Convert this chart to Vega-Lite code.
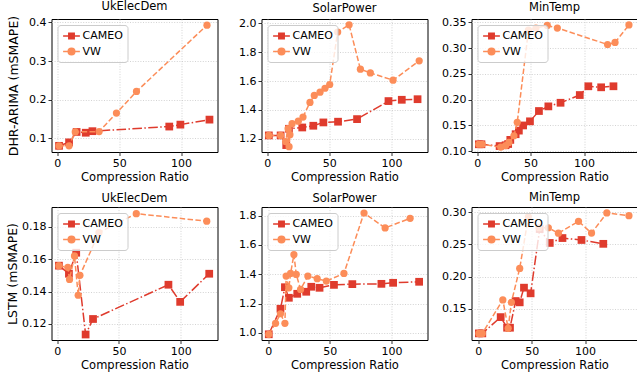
{
"$schema": "https://vega.github.io/schema/vega-lite/v6.json",
"padding": {"left": 5.5, "top": 0, "right": 2, "bottom": 0},
"columns": 3,
"spacing": {"row": 55, "column": 44},
"bounds": "flush",
"data": {"values": [
{"model":"DHR-ARIMA","dataset":"UkElecDem","method":"CAMEO","ratio":1.4,"smape":0.080},
{"model":"DHR-ARIMA","dataset":"UkElecDem","method":"CAMEO","ratio":9.5,"smape":0.089},
{"model":"DHR-ARIMA","dataset":"UkElecDem","method":"CAMEO","ratio":15.6,"smape":0.116},
{"model":"DHR-ARIMA","dataset":"UkElecDem","method":"CAMEO","ratio":23,"smape":0.114},
{"model":"DHR-ARIMA","dataset":"UkElecDem","method":"CAMEO","ratio":28.4,"smape":0.118},
{"model":"DHR-ARIMA","dataset":"UkElecDem","method":"CAMEO","ratio":90.5,"smape":0.130},
{"model":"DHR-ARIMA","dataset":"UkElecDem","method":"CAMEO","ratio":99.5,"smape":0.135},
{"model":"DHR-ARIMA","dataset":"UkElecDem","method":"CAMEO","ratio":123,"smape":0.148},
{"model":"DHR-ARIMA","dataset":"UkElecDem","method":"VW","ratio":1.4,"smape":0.080},
{"model":"DHR-ARIMA","dataset":"UkElecDem","method":"VW","ratio":9.5,"smape":0.080},
{"model":"DHR-ARIMA","dataset":"UkElecDem","method":"VW","ratio":14.5,"smape":0.116},
{"model":"DHR-ARIMA","dataset":"UkElecDem","method":"VW","ratio":33.8,"smape":0.117},
{"model":"DHR-ARIMA","dataset":"UkElecDem","method":"VW","ratio":47.8,"smape":0.165},
{"model":"DHR-ARIMA","dataset":"UkElecDem","method":"VW","ratio":64,"smape":0.221},
{"model":"DHR-ARIMA","dataset":"UkElecDem","method":"VW","ratio":121,"smape":0.393},
{"model":"DHR-ARIMA","dataset":"SolarPower","method":"CAMEO","ratio":1.3,"smape":1.223},
{"model":"DHR-ARIMA","dataset":"SolarPower","method":"CAMEO","ratio":10.8,"smape":1.223},
{"model":"DHR-ARIMA","dataset":"SolarPower","method":"CAMEO","ratio":15.3,"smape":1.156},
{"model":"DHR-ARIMA","dataset":"SolarPower","method":"CAMEO","ratio":17.5,"smape":1.269},
{"model":"DHR-ARIMA","dataset":"SolarPower","method":"CAMEO","ratio":28.2,"smape":1.278},
{"model":"DHR-ARIMA","dataset":"SolarPower","method":"CAMEO","ratio":37.1,"smape":1.290},
{"model":"DHR-ARIMA","dataset":"SolarPower","method":"CAMEO","ratio":45.2,"smape":1.313},
{"model":"DHR-ARIMA","dataset":"SolarPower","method":"CAMEO","ratio":57,"smape":1.318},
{"model":"DHR-ARIMA","dataset":"SolarPower","method":"CAMEO","ratio":72.3,"smape":1.336},
{"model":"DHR-ARIMA","dataset":"SolarPower","method":"CAMEO","ratio":97.6,"smape":1.461},
{"model":"DHR-ARIMA","dataset":"SolarPower","method":"CAMEO","ratio":108.3,"smape":1.470},
{"model":"DHR-ARIMA","dataset":"SolarPower","method":"CAMEO","ratio":121,"smape":1.474},
{"model":"DHR-ARIMA","dataset":"SolarPower","method":"VW","ratio":1.3,"smape":1.223},
{"model":"DHR-ARIMA","dataset":"SolarPower","method":"VW","ratio":10.8,"smape":1.223},
{"model":"DHR-ARIMA","dataset":"SolarPower","method":"VW","ratio":14.8,"smape":1.18},
{"model":"DHR-ARIMA","dataset":"SolarPower","method":"VW","ratio":16.8,"smape":1.27},
{"model":"DHR-ARIMA","dataset":"SolarPower","method":"VW","ratio":17.6,"smape":1.145},
{"model":"DHR-ARIMA","dataset":"SolarPower","method":"VW","ratio":18.3,"smape":1.228},
{"model":"DHR-ARIMA","dataset":"SolarPower","method":"VW","ratio":20,"smape":1.304},
{"model":"DHR-ARIMA","dataset":"SolarPower","method":"VW","ratio":25,"smape":1.322},
{"model":"DHR-ARIMA","dataset":"SolarPower","method":"VW","ratio":28.8,"smape":1.35},
{"model":"DHR-ARIMA","dataset":"SolarPower","method":"VW","ratio":34.4,"smape":1.452},
{"model":"DHR-ARIMA","dataset":"SolarPower","method":"VW","ratio":37.9,"smape":1.50},
{"model":"DHR-ARIMA","dataset":"SolarPower","method":"VW","ratio":42.5,"smape":1.523},
{"model":"DHR-ARIMA","dataset":"SolarPower","method":"VW","ratio":46.5,"smape":1.55},
{"model":"DHR-ARIMA","dataset":"SolarPower","method":"VW","ratio":50.3,"smape":1.576},
{"model":"DHR-ARIMA","dataset":"SolarPower","method":"VW","ratio":56.7,"smape":1.94},
{"model":"DHR-ARIMA","dataset":"SolarPower","method":"VW","ratio":65.9,"smape":1.99},
{"model":"DHR-ARIMA","dataset":"SolarPower","method":"VW","ratio":75,"smape":1.682},
{"model":"DHR-ARIMA","dataset":"SolarPower","method":"VW","ratio":83,"smape":1.656},
{"model":"DHR-ARIMA","dataset":"SolarPower","method":"VW","ratio":101.3,"smape":1.606},
{"model":"DHR-ARIMA","dataset":"SolarPower","method":"VW","ratio":122.3,"smape":1.74},
{"model":"DHR-ARIMA","dataset":"MinTemp","method":"CAMEO","ratio":1.6,"smape":0.1135},
{"model":"DHR-ARIMA","dataset":"MinTemp","method":"CAMEO","ratio":4,"smape":0.1135},
{"model":"DHR-ARIMA","dataset":"MinTemp","method":"CAMEO","ratio":21,"smape":0.110},
{"model":"DHR-ARIMA","dataset":"MinTemp","method":"CAMEO","ratio":26.6,"smape":0.1116},
{"model":"DHR-ARIMA","dataset":"MinTemp","method":"CAMEO","ratio":29,"smape":0.114},
{"model":"DHR-ARIMA","dataset":"MinTemp","method":"CAMEO","ratio":31,"smape":0.122},
{"model":"DHR-ARIMA","dataset":"MinTemp","method":"CAMEO","ratio":36,"smape":0.133},
{"model":"DHR-ARIMA","dataset":"MinTemp","method":"CAMEO","ratio":39,"smape":0.140},
{"model":"DHR-ARIMA","dataset":"MinTemp","method":"CAMEO","ratio":43,"smape":0.150},
{"model":"DHR-ARIMA","dataset":"MinTemp","method":"CAMEO","ratio":49.4,"smape":0.158},
{"model":"DHR-ARIMA","dataset":"MinTemp","method":"CAMEO","ratio":57.8,"smape":0.178},
{"model":"DHR-ARIMA","dataset":"MinTemp","method":"CAMEO","ratio":66.6,"smape":0.187},
{"model":"DHR-ARIMA","dataset":"MinTemp","method":"CAMEO","ratio":78,"smape":0.194},
{"model":"DHR-ARIMA","dataset":"MinTemp","method":"CAMEO","ratio":96,"smape":0.209},
{"model":"DHR-ARIMA","dataset":"MinTemp","method":"CAMEO","ratio":104,"smape":0.226},
{"model":"DHR-ARIMA","dataset":"MinTemp","method":"CAMEO","ratio":116,"smape":0.224},
{"model":"DHR-ARIMA","dataset":"MinTemp","method":"CAMEO","ratio":127.5,"smape":0.226},
{"model":"DHR-ARIMA","dataset":"MinTemp","method":"VW","ratio":1.5,"smape":0.1135},
{"model":"DHR-ARIMA","dataset":"MinTemp","method":"VW","ratio":4.7,"smape":0.1135},
{"model":"DHR-ARIMA","dataset":"MinTemp","method":"VW","ratio":22,"smape":0.108},
{"model":"DHR-ARIMA","dataset":"MinTemp","method":"VW","ratio":26.6,"smape":0.111},
{"model":"DHR-ARIMA","dataset":"MinTemp","method":"VW","ratio":29.7,"smape":0.117},
{"model":"DHR-ARIMA","dataset":"MinTemp","method":"VW","ratio":34.4,"smape":0.130},
{"model":"DHR-ARIMA","dataset":"MinTemp","method":"VW","ratio":37.5,"smape":0.156},
{"model":"DHR-ARIMA","dataset":"MinTemp","method":"VW","ratio":48,"smape":0.335},
{"model":"DHR-ARIMA","dataset":"MinTemp","method":"VW","ratio":55,"smape":0.339},
{"model":"DHR-ARIMA","dataset":"MinTemp","method":"VW","ratio":65.6,"smape":0.344},
{"model":"DHR-ARIMA","dataset":"MinTemp","method":"VW","ratio":75,"smape":0.339},
{"model":"DHR-ARIMA","dataset":"MinTemp","method":"VW","ratio":122,"smape":0.307},
{"model":"DHR-ARIMA","dataset":"MinTemp","method":"VW","ratio":129,"smape":0.311},
{"model":"DHR-ARIMA","dataset":"MinTemp","method":"VW","ratio":142,"smape":0.345},
{"model":"LSTM","dataset":"UkElecDem","method":"CAMEO","ratio":1.4,"smape":0.156},
{"model":"LSTM","dataset":"UkElecDem","method":"CAMEO","ratio":9.5,"smape":0.151},
{"model":"LSTM","dataset":"UkElecDem","method":"CAMEO","ratio":15.4,"smape":0.164},
{"model":"LSTM","dataset":"UkElecDem","method":"CAMEO","ratio":23,"smape":0.1134},
{"model":"LSTM","dataset":"UkElecDem","method":"CAMEO","ratio":29,"smape":0.123},
{"model":"LSTM","dataset":"UkElecDem","method":"CAMEO","ratio":90,"smape":0.1442},
{"model":"LSTM","dataset":"UkElecDem","method":"CAMEO","ratio":99.5,"smape":0.1336},
{"model":"LSTM","dataset":"UkElecDem","method":"CAMEO","ratio":123,"smape":0.151},
{"model":"LSTM","dataset":"UkElecDem","method":"VW","ratio":1.4,"smape":0.156},
{"model":"LSTM","dataset":"UkElecDem","method":"VW","ratio":8.6,"smape":0.155},
{"model":"LSTM","dataset":"UkElecDem","method":"VW","ratio":10,"smape":0.1475},
{"model":"LSTM","dataset":"UkElecDem","method":"VW","ratio":14,"smape":0.162},
{"model":"LSTM","dataset":"UkElecDem","method":"VW","ratio":17,"smape":0.1377},
{"model":"LSTM","dataset":"UkElecDem","method":"VW","ratio":18.4,"smape":0.150},
{"model":"LSTM","dataset":"UkElecDem","method":"VW","ratio":33.8,"smape":0.1765},
{"model":"LSTM","dataset":"UkElecDem","method":"VW","ratio":64,"smape":0.1882},
{"model":"LSTM","dataset":"UkElecDem","method":"VW","ratio":121,"smape":0.1835},
{"model":"LSTM","dataset":"SolarPower","method":"CAMEO","ratio":0.5,"smape":0.991},
{"model":"LSTM","dataset":"SolarPower","method":"CAMEO","ratio":10,"smape":1.165},
{"model":"LSTM","dataset":"SolarPower","method":"CAMEO","ratio":13.6,"smape":1.312},
{"model":"LSTM","dataset":"SolarPower","method":"CAMEO","ratio":16.8,"smape":1.240},
{"model":"LSTM","dataset":"SolarPower","method":"CAMEO","ratio":23.6,"smape":1.267},
{"model":"LSTM","dataset":"SolarPower","method":"CAMEO","ratio":30.9,"smape":1.281},
{"model":"LSTM","dataset":"SolarPower","method":"CAMEO","ratio":35,"smape":1.315},
{"model":"LSTM","dataset":"SolarPower","method":"CAMEO","ratio":41.7,"smape":1.308},
{"model":"LSTM","dataset":"SolarPower","method":"CAMEO","ratio":53.4,"smape":1.328},
{"model":"LSTM","dataset":"SolarPower","method":"CAMEO","ratio":68.3,"smape":1.333},
{"model":"LSTM","dataset":"SolarPower","method":"CAMEO","ratio":91.9,"smape":1.335},
{"model":"LSTM","dataset":"SolarPower","method":"CAMEO","ratio":101.4,"smape":1.342},
{"model":"LSTM","dataset":"SolarPower","method":"CAMEO","ratio":122.5,"smape":1.349},
{"model":"LSTM","dataset":"SolarPower","method":"VW","ratio":0.5,"smape":0.991},
{"model":"LSTM","dataset":"SolarPower","method":"VW","ratio":6,"smape":1.066},
{"model":"LSTM","dataset":"SolarPower","method":"VW","ratio":10,"smape":1.131},
{"model":"LSTM","dataset":"SolarPower","method":"VW","ratio":13.6,"smape":1.066},
{"model":"LSTM","dataset":"SolarPower","method":"VW","ratio":14.6,"smape":1.388},
{"model":"LSTM","dataset":"SolarPower","method":"VW","ratio":16.8,"smape":1.308},
{"model":"LSTM","dataset":"SolarPower","method":"VW","ratio":18.2,"smape":1.406},
{"model":"LSTM","dataset":"SolarPower","method":"VW","ratio":20.9,"smape":1.535},
{"model":"LSTM","dataset":"SolarPower","method":"VW","ratio":22.8,"smape":1.399},
{"model":"LSTM","dataset":"SolarPower","method":"VW","ratio":26.3,"smape":1.297},
{"model":"LSTM","dataset":"SolarPower","method":"VW","ratio":32.2,"smape":1.388},
{"model":"LSTM","dataset":"SolarPower","method":"VW","ratio":39.8,"smape":1.370},
{"model":"LSTM","dataset":"SolarPower","method":"VW","ratio":47.2,"smape":1.354},
{"model":"LSTM","dataset":"SolarPower","method":"VW","ratio":61.5,"smape":1.406},
{"model":"LSTM","dataset":"SolarPower","method":"VW","ratio":77.8,"smape":1.818},
{"model":"LSTM","dataset":"SolarPower","method":"VW","ratio":94.9,"smape":1.716},
{"model":"LSTM","dataset":"SolarPower","method":"VW","ratio":115.2,"smape":1.782},
{"model":"LSTM","dataset":"MinTemp","method":"CAMEO","ratio":0.6,"smape":0.1117},
{"model":"LSTM","dataset":"MinTemp","method":"CAMEO","ratio":3.8,"smape":0.1117},
{"model":"LSTM","dataset":"MinTemp","method":"CAMEO","ratio":21,"smape":0.137},
{"model":"LSTM","dataset":"MinTemp","method":"CAMEO","ratio":27,"smape":0.1205},
{"model":"LSTM","dataset":"MinTemp","method":"CAMEO","ratio":29.7,"smape":0.1205},
{"model":"LSTM","dataset":"MinTemp","method":"CAMEO","ratio":35,"smape":0.162},
{"model":"LSTM","dataset":"MinTemp","method":"CAMEO","ratio":38.8,"smape":0.160},
{"model":"LSTM","dataset":"MinTemp","method":"CAMEO","ratio":42.8,"smape":0.1828},
{"model":"LSTM","dataset":"MinTemp","method":"CAMEO","ratio":49,"smape":0.174},
{"model":"LSTM","dataset":"MinTemp","method":"CAMEO","ratio":57.5,"smape":0.274},
{"model":"LSTM","dataset":"MinTemp","method":"CAMEO","ratio":66.9,"smape":0.2524},
{"model":"LSTM","dataset":"MinTemp","method":"CAMEO","ratio":78.8,"smape":0.260},
{"model":"LSTM","dataset":"MinTemp","method":"CAMEO","ratio":96.6,"smape":0.257},
{"model":"LSTM","dataset":"MinTemp","method":"CAMEO","ratio":117,"smape":0.251},
{"model":"LSTM","dataset":"MinTemp","method":"VW","ratio":0.6,"smape":0.1117},
{"model":"LSTM","dataset":"MinTemp","method":"VW","ratio":3.8,"smape":0.1117},
{"model":"LSTM","dataset":"MinTemp","method":"VW","ratio":23,"smape":0.1638},
{"model":"LSTM","dataset":"MinTemp","method":"VW","ratio":28,"smape":0.1195},
{"model":"LSTM","dataset":"MinTemp","method":"VW","ratio":31,"smape":0.160},
{"model":"LSTM","dataset":"MinTemp","method":"VW","ratio":38.8,"smape":0.2128},
{"model":"LSTM","dataset":"MinTemp","method":"VW","ratio":46.9,"smape":0.293},
{"model":"LSTM","dataset":"MinTemp","method":"VW","ratio":56.9,"smape":0.276},
{"model":"LSTM","dataset":"MinTemp","method":"VW","ratio":65.6,"smape":0.276},
{"model":"LSTM","dataset":"MinTemp","method":"VW","ratio":75,"smape":0.2675},
{"model":"LSTM","dataset":"MinTemp","method":"VW","ratio":93.8,"smape":0.286},
{"model":"LSTM","dataset":"MinTemp","method":"VW","ratio":106,"smape":0.2677},
{"model":"LSTM","dataset":"MinTemp","method":"VW","ratio":120.3,"smape":0.299},
{"model":"LSTM","dataset":"MinTemp","method":"VW","ratio":141,"smape":0.2948}
]},
"resolve": {"scale": {"fill": "independent", "stroke": "independent", "shape": "independent"}, "legend": {"fill": "independent", "stroke": "independent", "shape": "independent"}},
"concat": [
{"title": "UkElecDem", "width": 166, "height": 133,
 "transform": [{"filter": "datum.model == 'DHR-ARIMA' && datum.dataset == 'UkElecDem'"}],
 "encoding": {
  "x": {"field": "ratio", "type": "quantitative", "scale": {"domain": [-4.7, 129.5], "nice": false, "zero": false}, "axis": {"values": [0, 50, 100], "title": "Compression Ratio"}},
  "y": {"field": "smape", "type": "quantitative", "scale": {"domain": [0.064, 0.409], "nice": false, "zero": false}, "axis": {"values": [0.1, 0.2, 0.3, 0.4], "format": ".1f", "title": "DHR-ARIMA (mSMAPE)", "titlePadding": 8}}
 },
 "layer": [
  {"transform": [{"filter": "datum.ratio < -1000"}], "mark": {"type": "point", "filled": true, "opacity": 1},
   "encoding": {
    "fill": {"field": "method", "type": "nominal", "scale": {"domain": ["CAMEO", "VW"], "range": ["#df3b2d", "#fc8d59"]}},
    "stroke": {"field": "method", "type": "nominal", "scale": {"domain": ["CAMEO", "VW"], "range": ["#df3b2d", "#fc8d59"]}},
    "shape": {"field": "method", "type": "nominal", "scale": {"domain": ["CAMEO", "VW"], "range": ["M-1.4,0H1.4M-0.45,-0.45H0.45V0.45H-0.45Z", "M-1.4,0H1.4M-0.55,0A0.55,0.55,0,1,1,0.55,0A0.55,0.55,0,1,1,-0.55,0Z"]}}}},
  {"transform": [{"filter": "datum.method == 'CAMEO'"}], "mark": {"type": "line", "color": "#df3b2d", "strokeWidth": 1.5, "strokeDash": [9.6, 2.4, 1.5, 2.4]}},
  {"transform": [{"filter": "datum.method == 'CAMEO'"}], "mark": {"type": "point", "color": "#df3b2d", "shape": "square", "filled": true, "size": 60, "opacity": 1}},
  {"transform": [{"filter": "datum.method == 'VW'"}], "mark": {"type": "line", "color": "#fc8d59", "strokeWidth": 1.5, "strokeDash": [5.5, 2.4]}},
  {"transform": [{"filter": "datum.method == 'VW'"}], "mark": {"type": "point", "color": "#fc8d59", "shape": "circle", "filled": true, "size": 52, "opacity": 1}}
 ]},
{"title": "SolarPower", "width": 166, "height": 133,
 "transform": [{"filter": "datum.model == 'DHR-ARIMA' && datum.dataset == 'SolarPower'"}],
 "encoding": {
  "x": {"field": "ratio", "type": "quantitative", "scale": {"domain": [-4.6, 129], "nice": false, "zero": false}, "axis": {"values": [0, 50, 100], "title": "Compression Ratio"}},
  "y": {"field": "smape", "type": "quantitative", "scale": {"domain": [1.108, 2.03], "nice": false, "zero": false}, "axis": {"values": [1.2, 1.4, 1.6, 1.8, 2.0], "format": ".1f", "title": null}}
 },
 "layer": [
  {"transform": [{"filter": "datum.ratio < -1000"}], "mark": {"type": "point", "filled": true, "opacity": 1},
   "encoding": {
    "fill": {"field": "method", "type": "nominal", "scale": {"domain": ["CAMEO", "VW"], "range": ["#df3b2d", "#fc8d59"]}},
    "stroke": {"field": "method", "type": "nominal", "scale": {"domain": ["CAMEO", "VW"], "range": ["#df3b2d", "#fc8d59"]}},
    "shape": {"field": "method", "type": "nominal", "scale": {"domain": ["CAMEO", "VW"], "range": ["M-1.4,0H1.4M-0.45,-0.45H0.45V0.45H-0.45Z", "M-1.4,0H1.4M-0.55,0A0.55,0.55,0,1,1,0.55,0A0.55,0.55,0,1,1,-0.55,0Z"]}}}},
  {"transform": [{"filter": "datum.method == 'CAMEO'"}], "mark": {"type": "line", "color": "#df3b2d", "strokeWidth": 1.5, "strokeDash": [9.6, 2.4, 1.5, 2.4]}},
  {"transform": [{"filter": "datum.method == 'CAMEO'"}], "mark": {"type": "point", "color": "#df3b2d", "shape": "square", "filled": true, "size": 60, "opacity": 1}},
  {"transform": [{"filter": "datum.method == 'VW'"}], "mark": {"type": "line", "color": "#fc8d59", "strokeWidth": 1.5, "strokeDash": [5.5, 2.4]}},
  {"transform": [{"filter": "datum.method == 'VW'"}], "mark": {"type": "point", "color": "#fc8d59", "shape": "circle", "filled": true, "size": 52, "opacity": 1}}
 ]},
{"title": "MinTemp", "width": 166, "height": 133,
 "transform": [{"filter": "datum.model == 'DHR-ARIMA' && datum.dataset == 'MinTemp'"}],
 "encoding": {
  "x": {"field": "ratio", "type": "quantitative", "scale": {"domain": [-5.3, 150], "nice": false, "zero": false}, "axis": {"values": [0, 50, 100], "title": "Compression Ratio"}},
  "y": {"field": "smape", "type": "quantitative", "scale": {"domain": [0.0985, 0.3565], "nice": false, "zero": false}, "axis": {"values": [0.10, 0.15, 0.20, 0.25, 0.30, 0.35], "format": ".2f", "title": null}}
 },
 "layer": [
  {"transform": [{"filter": "datum.ratio < -1000"}], "mark": {"type": "point", "filled": true, "opacity": 1},
   "encoding": {
    "fill": {"field": "method", "type": "nominal", "scale": {"domain": ["CAMEO", "VW"], "range": ["#df3b2d", "#fc8d59"]}},
    "stroke": {"field": "method", "type": "nominal", "scale": {"domain": ["CAMEO", "VW"], "range": ["#df3b2d", "#fc8d59"]}},
    "shape": {"field": "method", "type": "nominal", "scale": {"domain": ["CAMEO", "VW"], "range": ["M-1.4,0H1.4M-0.45,-0.45H0.45V0.45H-0.45Z", "M-1.4,0H1.4M-0.55,0A0.55,0.55,0,1,1,0.55,0A0.55,0.55,0,1,1,-0.55,0Z"]}}}},
  {"transform": [{"filter": "datum.method == 'CAMEO'"}], "mark": {"type": "line", "color": "#df3b2d", "strokeWidth": 1.5, "strokeDash": [9.6, 2.4, 1.5, 2.4]}},
  {"transform": [{"filter": "datum.method == 'CAMEO'"}], "mark": {"type": "point", "color": "#df3b2d", "shape": "square", "filled": true, "size": 60, "opacity": 1}},
  {"transform": [{"filter": "datum.method == 'VW'"}], "mark": {"type": "line", "color": "#fc8d59", "strokeWidth": 1.5, "strokeDash": [5.5, 2.4]}},
  {"transform": [{"filter": "datum.method == 'VW'"}], "mark": {"type": "point", "color": "#fc8d59", "shape": "circle", "filled": true, "size": 52, "opacity": 1}}
 ]},
{"title": "UkElecDem", "width": 166, "height": 133,
 "transform": [{"filter": "datum.model == 'LSTM' && datum.dataset == 'UkElecDem'"}],
 "encoding": {
  "x": {"field": "ratio", "type": "quantitative", "scale": {"domain": [-4.6, 129.7], "nice": false, "zero": false}, "axis": {"values": [0, 50, 100], "title": "Compression Ratio"}},
  "y": {"field": "smape", "type": "quantitative", "scale": {"domain": [0.110, 0.1923], "nice": false, "zero": false}, "axis": {"values": [0.12, 0.14, 0.16, 0.18], "format": ".2f", "title": "LSTM (mSMAPE)", "titlePadding": 2}}
 },
 "layer": [
  {"transform": [{"filter": "datum.ratio < -1000"}], "mark": {"type": "point", "filled": true, "opacity": 1},
   "encoding": {
    "fill": {"field": "method", "type": "nominal", "scale": {"domain": ["CAMEO", "VW"], "range": ["#df3b2d", "#fc8d59"]}},
    "stroke": {"field": "method", "type": "nominal", "scale": {"domain": ["CAMEO", "VW"], "range": ["#df3b2d", "#fc8d59"]}},
    "shape": {"field": "method", "type": "nominal", "scale": {"domain": ["CAMEO", "VW"], "range": ["M-1.4,0H1.4M-0.45,-0.45H0.45V0.45H-0.45Z", "M-1.4,0H1.4M-0.55,0A0.55,0.55,0,1,1,0.55,0A0.55,0.55,0,1,1,-0.55,0Z"]}}}},
  {"transform": [{"filter": "datum.method == 'CAMEO'"}], "mark": {"type": "line", "color": "#df3b2d", "strokeWidth": 1.5, "strokeDash": [9.6, 2.4, 1.5, 2.4]}},
  {"transform": [{"filter": "datum.method == 'CAMEO'"}], "mark": {"type": "point", "color": "#df3b2d", "shape": "square", "filled": true, "size": 60, "opacity": 1}},
  {"transform": [{"filter": "datum.method == 'VW'"}], "mark": {"type": "line", "color": "#fc8d59", "strokeWidth": 1.5, "strokeDash": [5.5, 2.4]}},
  {"transform": [{"filter": "datum.method == 'VW'"}], "mark": {"type": "point", "color": "#fc8d59", "shape": "circle", "filled": true, "size": 52, "opacity": 1}}
 ]},
{"title": "SolarPower", "width": 166, "height": 133,
 "transform": [{"filter": "datum.model == 'LSTM' && datum.dataset == 'SolarPower'"}],
 "encoding": {
  "x": {"field": "ratio", "type": "quantitative", "scale": {"domain": [-5.4, 129.3], "nice": false, "zero": false}, "axis": {"values": [0, 50, 100], "title": "Compression Ratio"}},
  "y": {"field": "smape", "type": "quantitative", "scale": {"domain": [0.952, 1.859], "nice": false, "zero": false}, "axis": {"values": [1.0, 1.2, 1.4, 1.6, 1.8], "format": ".1f", "title": null}}
 },
 "layer": [
  {"transform": [{"filter": "datum.ratio < -1000"}], "mark": {"type": "point", "filled": true, "opacity": 1},
   "encoding": {
    "fill": {"field": "method", "type": "nominal", "scale": {"domain": ["CAMEO", "VW"], "range": ["#df3b2d", "#fc8d59"]}},
    "stroke": {"field": "method", "type": "nominal", "scale": {"domain": ["CAMEO", "VW"], "range": ["#df3b2d", "#fc8d59"]}},
    "shape": {"field": "method", "type": "nominal", "scale": {"domain": ["CAMEO", "VW"], "range": ["M-1.4,0H1.4M-0.45,-0.45H0.45V0.45H-0.45Z", "M-1.4,0H1.4M-0.55,0A0.55,0.55,0,1,1,0.55,0A0.55,0.55,0,1,1,-0.55,0Z"]}}}},
  {"transform": [{"filter": "datum.method == 'CAMEO'"}], "mark": {"type": "line", "color": "#df3b2d", "strokeWidth": 1.5, "strokeDash": [9.6, 2.4, 1.5, 2.4]}},
  {"transform": [{"filter": "datum.method == 'CAMEO'"}], "mark": {"type": "point", "color": "#df3b2d", "shape": "square", "filled": true, "size": 60, "opacity": 1}},
  {"transform": [{"filter": "datum.method == 'VW'"}], "mark": {"type": "line", "color": "#fc8d59", "strokeWidth": 1.5, "strokeDash": [5.5, 2.4]}},
  {"transform": [{"filter": "datum.method == 'VW'"}], "mark": {"type": "point", "color": "#fc8d59", "shape": "circle", "filled": true, "size": 52, "opacity": 1}}
 ]},
{"title": "MinTemp", "width": 166, "height": 133,
 "transform": [{"filter": "datum.model == 'LSTM' && datum.dataset == 'MinTemp'"}],
 "encoding": {
  "x": {"field": "ratio", "type": "quantitative", "scale": {"domain": [-6.3, 149], "nice": false, "zero": false}, "axis": {"values": [0, 50, 100], "title": "Compression Ratio"}},
  "y": {"field": "smape", "type": "quantitative", "scale": {"domain": [0.1014, 0.3083], "nice": false, "zero": false}, "axis": {"values": [0.15, 0.20, 0.25, 0.30], "format": ".2f", "title": null}}
 },
 "layer": [
  {"transform": [{"filter": "datum.ratio < -1000"}], "mark": {"type": "point", "filled": true, "opacity": 1},
   "encoding": {
    "fill": {"field": "method", "type": "nominal", "scale": {"domain": ["CAMEO", "VW"], "range": ["#df3b2d", "#fc8d59"]}},
    "stroke": {"field": "method", "type": "nominal", "scale": {"domain": ["CAMEO", "VW"], "range": ["#df3b2d", "#fc8d59"]}},
    "shape": {"field": "method", "type": "nominal", "scale": {"domain": ["CAMEO", "VW"], "range": ["M-1.4,0H1.4M-0.45,-0.45H0.45V0.45H-0.45Z", "M-1.4,0H1.4M-0.55,0A0.55,0.55,0,1,1,0.55,0A0.55,0.55,0,1,1,-0.55,0Z"]}}}},
  {"transform": [{"filter": "datum.method == 'CAMEO'"}], "mark": {"type": "line", "color": "#df3b2d", "strokeWidth": 1.5, "strokeDash": [9.6, 2.4, 1.5, 2.4]}},
  {"transform": [{"filter": "datum.method == 'CAMEO'"}], "mark": {"type": "point", "color": "#df3b2d", "shape": "square", "filled": true, "size": 60, "opacity": 1}},
  {"transform": [{"filter": "datum.method == 'VW'"}], "mark": {"type": "line", "color": "#fc8d59", "strokeWidth": 1.5, "strokeDash": [5.5, 2.4]}},
  {"transform": [{"filter": "datum.method == 'VW'"}], "mark": {"type": "point", "color": "#fc8d59", "shape": "circle", "filled": true, "size": 52, "opacity": 1}}
 ]}
],
"config": {
 "font": "DejaVu Sans",
 "view": {"stroke": "#000000", "strokeWidth": 1},
 "axis": {"domain": false, "grid": true, "gridColor": "#c8c8c8", "gridDash": [1, 1.6], "gridWidth": 0.8, "tickColor": "#000000", "tickSize": 3.5, "tickWidth": 0.8, "labelColor": "#000000", "labelFontSize": 11, "labelPadding": 2, "titleColor": "#000000", "titleFontWeight": "normal", "titleFontSize": 11.5},
 "axisX": {"titlePadding": 3},
 "axisY": {"titleFontSize": 12.5},
 "title": {"fontSize": 11.5, "fontWeight": "normal", "color": "#000000", "offset": 3},
 "legend": {"title": null, "orient": "top-left", "offset": 6, "padding": 4, "symbolOffset": 3, "labelOffset": 4, "rowPadding": 2.5, "symbolSize": 144, "symbolStrokeWidth": 1.5, "labelFontSize": 11, "labelColor": "#000000", "fillColor": "rgba(255,255,255,0.8)", "strokeColor": "#cccccc", "cornerRadius": 3}
}
}
